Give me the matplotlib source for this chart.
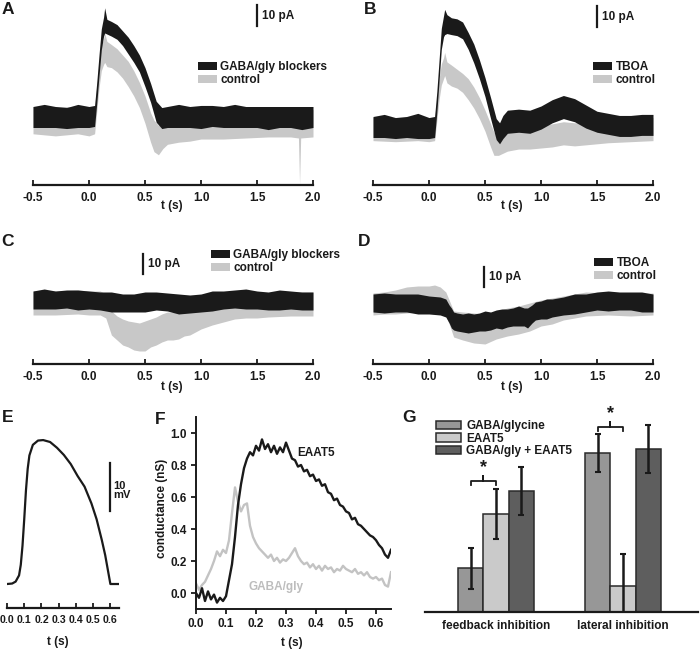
import matplotlib
matplotlib.use('Agg')
import matplotlib.pyplot as plt
from matplotlib.patches import Patch
import numpy as np

plt.rcParams['font.family'] = ['Liberation Sans', 'DejaVu Sans']
plt.rcParams['font.weight'] = 'bold'
plt.rcParams['axes.labelweight'] = 'bold'

# ---------------- data ----------------
# A: GABA/gly blockers vs control, pA (trace centre and half band width)
a_blk_t = [-0.5, -0.4, -0.3, -0.2, -0.1, 0.0, 0.05, 0.07, 0.09, 0.11, 0.13, 0.14, 0.16, 0.2, 0.25, 0.3, 0.35, 0.4,
           0.45, 0.5, 0.55, 0.6, 0.65, 0.7, 0.8, 0.9, 1.0, 1.1, 1.2, 1.3, 1.4, 1.5, 1.6, 1.7, 1.8, 1.9, 2.0]
a_blk_mid = [0, 0.5, 0, -0.5, 0.5, 0, 0.5, 12, 25, 37, 43, 46, 43, 42, 40.5, 37.5, 34, 30,
             25.5, 19, 11.5, 2.5, -0.5, 0, 0.5, 0, 0, 0.5, 0, 0.5, 0, 0, -0.5, 0, 0, -0.5, 0]
a_blk_half = [5, 5.5, 5, 5, 5.5, 5, 5, 5, 5, 5, 4.5, 6, 3.5, 3.5, 3.5, 3.5, 4, 4,
              4, 4.5, 4.5, 5, 5, 5, 5.5, 5, 5.5, 5, 5, 5.5, 5, 5, 5.5, 5, 5, 5.5, 5]
a_ctl_t = [-0.5, -0.3, -0.1, 0.0, 0.05, 0.07, 0.09, 0.11, 0.13, 0.14, 0.16, 0.2, 0.25, 0.3, 0.35, 0.4, 0.45,
           0.5, 0.55, 0.58, 0.62, 0.66, 0.7, 0.8, 0.9, 1.0, 1.2, 1.4, 1.6, 1.8, 1.87, 1.88, 1.89, 2.0]
a_ctl_mid = [-1.5, -2, -1.5, -2, -1.5, 9, 20, 28, 31, 33, 30, 29, 27, 24, 20.5, 16, 10.5,
             3.5, -5, -9, -11, -8, -6, -5, -4.5, -4, -3.5, -3.5, -3, -3, -3.5, -17, -3.5, -3]
a_ctl_half = [6.5, 7, 6.5, 7, 6.5, 6, 6, 6, 6, 7, 6, 5.5, 5.5, 5.5, 6, 6, 6,
              6.5, 7, 7.5, 7, 7, 7, 7, 7, 6.5, 7, 6.5, 6.5, 6.5, 6.5, 15, 6.5, 6.5]

# B: TBOA vs control
b_blk_t = [-0.5, -0.4, -0.3, -0.2, -0.1, 0.0, 0.05, 0.07, 0.09, 0.11, 0.13, 0.14, 0.16, 0.2, 0.25, 0.3, 0.35,
           0.4, 0.45, 0.5, 0.55, 0.6, 0.63, 0.66, 0.7, 0.8, 0.9, 1.0, 1.1, 1.2, 1.3, 1.4, 1.5, 1.6, 1.7, 1.8, 1.9, 2.0]
b_blk_mid = [0, 0.5, -0.5, 0, 0.5, -0.5, 0, 12, 27, 42, 48, 50, 49, 48, 47.5, 46, 41,
             35, 27.5, 19, 9, -1, -3, 0, 2.5, 3, 2.5, 4.5, 7.5, 9.5, 8, 5, 2.5, 1.5, 0.5, 0.5, 1, 1]
b_blk_half = [5, 5.5, 5, 5, 6, 5, 5, 5, 5, 5, 5, 6, 4.5, 4, 4, 4, 4,
              4.5, 4.5, 4.5, 5, 5, 5, 5.5, 5.5, 5.5, 5.5, 5.5, 5.5, 5.5, 5.5, 5.5, 5, 5, 5, 5, 5, 5]
b_ctl_t = [-0.5, -0.3, -0.1, 0.0, 0.05, 0.07, 0.09, 0.11, 0.13, 0.14, 0.16, 0.2, 0.25, 0.3, 0.35, 0.4,
           0.45, 0.5, 0.55, 0.58, 0.62, 0.7, 0.8, 0.9, 1.0, 1.1, 1.2, 1.3, 1.4, 1.6, 1.8, 2.0]
b_ctl_mid = [-1, -1.5, -1, -1.5, -1, 8, 18, 25, 28, 30, 26, 24.5, 23, 21, 18, 14,
             9, 3, -4, -8, -8, -6, -5, -5, -4.5, -4, -3, -3.5, -3, -2, -1.5, -1]
b_ctl_half = [5.5, 5.5, 5.5, 5.5, 5.5, 5, 5, 5, 5, 5.5, 5, 5, 4.5, 4.5, 5, 5,
              5, 5, 5.5, 5.5, 5.5, 5.5, 5.5, 5.5, 5.5, 5.5, 5.5, 5.5, 5.5, 5.5, 5.5, 5.5]

# C: GABA/gly blockers vs control
c_blk_t = [-0.5, -0.4, -0.3, -0.2, -0.1, 0.0, 0.1, 0.2, 0.3, 0.4, 0.5, 0.6, 0.7, 0.8, 0.9, 1.0,
           1.1, 1.2, 1.3, 1.4, 1.5, 1.6, 1.7, 1.8, 1.9, 2.0]
c_blk_mid = [0.5, 1, 0.5, 1, 0.5, 0.5, 0, -0.5, -1, -1, -0.5, 0, -0.5, -1.5, -1.5, -1,
             0, 0.5, 1, 1, 0.5, 0, 0.5, 0.5, 0, 0]
c_blk_half = [4.5, 5, 4.5, 4.5, 5, 4.5, 4.5, 5, 4.5, 4.5, 5, 4.5, 4.5, 5, 4.5, 4.5,
              5, 4.5, 4.5, 5, 4.5, 4.5, 5, 4.5, 4.5, 4.5]
c_ctl_t = [-0.5, -0.3, -0.1, 0.0, 0.1, 0.15, 0.2, 0.25, 0.3, 0.35, 0.4, 0.45, 0.5, 0.55, 0.6, 0.65,
           0.7, 0.75, 0.8, 0.85, 0.9, 0.95, 1.0, 1.05, 1.1, 1.2, 1.3, 1.4, 1.5, 1.6, 1.8, 2.0]
c_ctl_mid = [-1, -1, -0.5, -1, -1, -2.5, -11, -13.5, -15.5, -16.5, -17.5, -18, -17.5, -16, -15, -13.5,
             -12.5, -12.5, -12, -10.5, -10, -8.5, -7, -6.5, -5.5, -4, -3, -2.5, -2.5, -2, -1.5, -1.5]
c_ctl_half = [6, 6, 6, 6, 6, 6, 6, 6, 6.5, 6.5, 7, 7, 7.5, 7, 7, 7,
              7, 7, 7, 7, 7, 7, 7, 6.5, 6.5, 6.5, 6, 6, 6, 6, 6, 6]

# D: TBOA vs control
d_blk_t = [-0.5, -0.4, -0.3, -0.2, -0.1, 0.0, 0.1, 0.15, 0.18, 0.2, 0.22, 0.25, 0.3, 0.35, 0.4, 0.45, 0.5,
           0.55, 0.6, 0.65, 0.7, 0.75, 0.8, 0.85, 0.88, 0.92, 0.95, 1.0, 1.05, 1.1, 1.2, 1.3, 1.4, 1.5,
           1.6, 1.7, 1.8, 1.9, 2.0]
d_blk_mid = [0.5, 0.5, 0.5, 0.5, 0, -0.5, -1, -2, -5, -7, -8.5, -9, -9.5, -9.5, -9.5, -9, -8.5,
             -8.5, -7.5, -7.5, -7, -6.5, -6, -6.5, -7, -5, -3.5, -3, -2.5, -2, -1, 0, 0.5, 1.5,
             1.5, 1.5, 1.5, 1, 0.5]
d_blk_half = [4.5, 5, 4.5, 4.5, 5, 4.5, 4.5, 4.5, 4.5, 5, 4.5, 4.5, 4.5, 5, 4.5, 4.5, 5,
              4.5, 4.5, 5, 4.5, 4.5, 5, 4.5, 5, 4.5, 4.5, 4.5, 5, 4.5, 4.5, 5, 4.5, 4.5,
              5, 4.5, 4.5, 5, 4.5]
d_ctl_t = [-0.5, -0.4, -0.3, -0.2, -0.1, 0.0, 0.05, 0.1, 0.15, 0.18, 0.22, 0.3, 0.4, 0.5, 0.6, 0.7,
           0.8, 0.9, 1.0, 1.1, 1.2, 1.3, 1.4, 1.6, 1.8, 2.0]
d_ctl_mid = [0, 0.5, 1, 2, 2.5, 2.5, 3, 2.5, 0, -4, -10, -11, -12, -12.5, -10.5, -9,
             -8, -6.5, -4.5, -3.5, -2, -1, 0, 0, -0.5, 0]
d_ctl_half = [5.5, 5.5, 6, 6.5, 6.5, 6.5, 6.5, 6, 6, 6, 6.5, 7, 7.5, 7.5, 7, 7,
              7, 7, 6.5, 6.5, 6, 6, 6, 5.5, 5.5, 5.5]

# E: modelled voltage (mV)
e_t = [0.0, 0.03, 0.05, 0.07, 0.08, 0.09, 0.10, 0.11, 0.12, 0.13, 0.15, 0.18, 0.21, 0.25, 0.29, 0.33,
       0.37, 0.41, 0.45, 0.49, 0.52, 0.55, 0.57, 0.59, 0.60, 0.65]
e_v = [0, 0.1, 0.5, 1.8, 4, 8, 13.5, 19.5, 24, 26.8, 29, 29.9, 30, 29.6, 28.4, 26.9,
       25, 22.5, 20.3, 16.8, 13.5, 9.2, 6.0, 2.0, 0, 0]

# F: conductance (nS)
f_t = [i / 100 for i in range(66)]
f_eaat5 = [0.00, -0.03, 0.03, -0.05, 0.01, -0.04, -0.01, -0.06, -0.03, -0.05,
           -0.02, 0.08, 0.18, 0.35, 0.55, 0.68, 0.78, 0.84, 0.88, 0.86,
           0.92, 0.89, 0.96, 0.90, 0.93, 0.88, 0.92, 0.87, 0.91, 0.88,
           0.94, 0.89, 0.84, 0.83, 0.79, 0.80, 0.76, 0.77, 0.73, 0.74,
           0.70, 0.71, 0.67, 0.68, 0.63, 0.62, 0.58, 0.59, 0.55, 0.54,
           0.51, 0.50, 0.46, 0.47, 0.43, 0.42, 0.40, 0.38, 0.36, 0.35,
           0.33, 0.30, 0.28, 0.24, 0.22, 0.27]
f_gaba = [0.06, 0.02, 0.05, 0.07, 0.11, 0.15, 0.20, 0.26, 0.23, 0.27,
          0.25, 0.33, 0.50, 0.66, 0.57, 0.51, 0.55, 0.56, 0.42, 0.35,
          0.31, 0.28, 0.26, 0.24, 0.22, 0.24, 0.20, 0.22, 0.19, 0.21,
          0.20, 0.22, 0.25, 0.28, 0.23, 0.20, 0.18, 0.19, 0.16, 0.18,
          0.15, 0.17, 0.14, 0.17, 0.15, 0.16, 0.13, 0.15, 0.14, 0.17,
          0.15, 0.14, 0.13, 0.15, 0.12, 0.13, 0.11, 0.13, 0.10, 0.09,
          0.10, 0.08, 0.09, 0.05, 0.04, 0.13]

# G: bar chart
g_groups = ['feedback inhibition', 'lateral inhibition']
g_series = ['GABA/glycine', 'EAAT5', 'GABA/gly + EAAT5']
g_vals = [[0.244, 0.883], [0.544, 0.144], [0.672, 0.906]]
g_errs = [[0.114, 0.106], [0.139, 0.178], [0.131, 0.133]]
g_sig = [0.729, 1.028]

# ---------------- layout ----------------
W, H = 700, 650
fig = plt.figure(figsize=(7, 6.5), dpi=100)
TXT = '#1a1a1a'
BLK = '#1a1a1a'
GRY = '#c8c8c8'


def add_ax(left, top, right, bottom):
    return fig.add_axes([left / W, 1 - bottom / H, (right - left) / W, (bottom - top) / H])


def trace_panel(rect, base, ppa, blk, ctl, names, leg_xy, sb_t, sb_lo, tlabel_xy):
    ax = add_ax(*rect)
    ax.set_xlim(-0.5, 2.0)
    ax.set_ylim((base - rect[3]) / ppa, (base - rect[1]) / ppa)
    for (t, m, h), c, z in [(ctl, GRY, 2), (blk, BLK, 3)]:
        t, m, h = np.array(t), np.array(m), np.array(h)
        ax.fill_between(t, m - h, m + h, color=c, lw=0, zorder=z)
    for s in ['top', 'left', 'right']:
        ax.spines[s].set_visible(False)
    ax.spines['bottom'].set_linewidth(1.6)
    ax.spines['bottom'].set_color(TXT)
    ax.set_yticks([])
    ax.set_xticks([-0.5, 0.0, 0.5, 1.0, 1.5, 2.0])
    ax.set_xticklabels(['-0.5', '0.0', '0.5', '1.0', '1.5', '2.0'], fontweight='bold')
    ax.tick_params(axis='x', direction='in', length=3.5, width=1.3, pad=5, labelsize=8.5,
                   colors=TXT)
    ax.patch.set_alpha(0)
    # scale bar 10 pA
    ax.plot([sb_t, sb_t], [sb_lo, sb_lo + 10], color=TXT, lw=1.6, clip_on=False)
    ax.text(sb_t + 0.045, sb_lo + 5, '10 pA', fontsize=8.5, ha='left', va='center', color=TXT)
    handles = [Patch(fc=BLK, ec='none'), Patch(fc=GRY, ec='none')]
    ax.legend(handles, names, loc='upper left', bbox_to_anchor=(leg_xy[0] / W, 1 - leg_xy[1] / H),
              bbox_transform=fig.transFigure, frameon=False, fontsize=8.5, handlelength=1.6,
              handleheight=0.6, handletextpad=0.3, labelspacing=0.08, borderpad=0,
              borderaxespad=0, labelcolor=TXT)
    fig.text(tlabel_xy[0] / W, 1 - tlabel_xy[1] / H, 't (s)', fontsize=8.5, ha='center',
             va='center', color=TXT)
    return ax


trace_panel((33, 0, 313, 185), 117, 2.1, (a_blk_t, a_blk_mid, a_blk_half),
            (a_ctl_t, a_ctl_mid, a_ctl_half), ['GABA/gly blockers', 'control'],
            (198, 61), 1.5, 43.3, (172, 206))
trace_panel((373, 0, 653, 185), 127, 2.1, (b_blk_t, b_blk_mid, b_blk_half),
            (b_ctl_t, b_ctl_mid, b_ctl_half), ['TBOA', 'control'],
            (593, 61), 1.5, 47.6, (512, 206))
trace_panel((33, 225, 313, 364), 301, 2.0, (c_blk_t, c_blk_mid, c_blk_half),
            (c_ctl_t, c_ctl_mid, c_ctl_half), ['GABA/gly blockers', 'control'],
            (211, 249), 0.48, 13.5, (172, 387))
trace_panel((373, 225, 653, 364), 304, 2.0, (d_blk_t, d_blk_mid, d_blk_half),
            (d_ctl_t, d_ctl_mid, d_ctl_half), ['TBOA', 'control'],
            (594, 257), 0.49, 8.5, (512, 387))

# ---- E ----
axE = add_ax(7, 430, 119, 608)
axE.plot(e_t, e_v, color=BLK, lw=1.6)
axE.set_xlim(0, 0.65)
axE.set_ylim(-5, 32.1)
for s in ['top', 'left', 'right']:
    axE.spines[s].set_visible(False)
axE.spines['bottom'].set_linewidth(1.6)
axE.spines['bottom'].set_color(TXT)
axE.set_yticks([])
axE.set_xticks([0, 0.1, 0.2, 0.3, 0.4, 0.5, 0.6])
axE.set_xticklabels(['0.0', '0.1', '0.2', '0.3', '0.4', '0.5', '0.6'], fontweight='bold')
axE.tick_params(axis='x', direction='in', length=3.5, width=1.3, pad=5, labelsize=7.6, colors=TXT)
axE.set_xlabel('t (s)', fontsize=8.5, color=TXT, va='center')
axE.xaxis.set_label_coords(0.455, -0.19)
axE.plot([0.6, 0.6], [15.2, 25.2], color=TXT, lw=1.6, clip_on=False)
axE.text(0.615, 19.5, '10\nmV', fontsize=8, ha='left', va='center', color=TXT, linespacing=0.95)
axE.patch.set_alpha(0)

# ---- F ----
axF = add_ax(196, 417, 391, 609)
axF.plot(f_t, f_gaba, color='#c3c3c3', lw=1.7)
axF.plot(f_t, f_eaat5, color=BLK, lw=1.7)
axF.set_xlim(0, 0.65)
axF.set_ylim(-0.1, 1.1)
for s in ['top', 'right']:
    axF.spines[s].set_visible(False)
for s in ['left', 'bottom']:
    axF.spines[s].set_linewidth(1.4)
    axF.spines[s].set_color(TXT)
axF.set_xticks([0, 0.1, 0.2, 0.3, 0.4, 0.5, 0.6])
axF.set_xticklabels(['0.0', '0.1', '0.2', '0.3', '0.4', '0.5', '0.6'], fontweight='bold')
axF.set_yticks([0, 0.2, 0.4, 0.6, 0.8, 1.0])
axF.set_yticklabels(['0.0', '0.2', '0.4', '0.6', '0.8', '1.0'], fontweight='bold')
axF.tick_params(direction='out', length=3.5, width=1.3, pad=3, labelsize=8.5, colors=TXT)
axF.set_xlabel('t (s)', fontsize=8.5, color=TXT, va='center')
axF.xaxis.set_label_coords(0.49, -0.175)
axF.set_ylabel('conductance (nS)', fontsize=8.5, color=TXT, va='center')
axF.yaxis.set_label_coords(-0.174, 0.526)
axF.text(0.40, 0.875, 'EAAT5', fontsize=8.5, ha='center', va='center', color=TXT)
axF.text(0.267, 0.04, 'GABA/gly', fontsize=8.5, ha='center', va='center', color='#bdbdbd')
axF.patch.set_alpha(0)

# ---- G ----
axG = add_ax(425, 400, 698, 612)
colors = ['#979797', '#cacaca', '#5e5e5e']
offs = [-0.2, 0.0, 0.2]
xg = np.arange(len(g_groups))
for i, name in enumerate(g_series):
    axG.bar(xg + offs[i], g_vals[i], 0.2, yerr=g_errs[i], color=colors[i], edgecolor='#2a2a2a',
            linewidth=1.1, label=name,
            error_kw=dict(ecolor='#1a1a1a', elinewidth=1.8, capsize=2.5, capthick=1.5))
axG.set_xlim(-0.559, 1.59)
axG.set_ylim(0, 1.178)
for s in ['top', 'left', 'right']:
    axG.spines[s].set_visible(False)
axG.spines['bottom'].set_linewidth(1.6)
axG.spines['bottom'].set_color(TXT)
axG.set_yticks([])
axG.set_xticks(xg)
axG.set_xticklabels(g_groups, fontweight='bold')
axG.tick_params(axis='x', length=0, pad=6, labelsize=8.5, colors=TXT)
for g, y in zip(xg, g_sig):
    x1, x2 = g + offs[0], g + offs[1]
    xm = (x1 + x2) / 2
    d = 0.025
    axG.plot([x1, x1, xm, xm, xm, x2, x2], [y - d, y, y, y + d, y, y, y - d],
             color=TXT, lw=1.3, clip_on=False)
    axG.text(xm, y + 0.048, '*', fontsize=13, ha='center', va='baseline', color=TXT)
axG.legend(loc='upper left', bbox_to_anchor=(436 / W, 1 - 420 / H), bbox_transform=fig.transFigure,
           frameon=False, fontsize=8.5, handlelength=2.1, handleheight=0.7, handletextpad=0.45,
           labelspacing=0.05, borderpad=0, borderaxespad=0, labelcolor=TXT)
axG.patch.set_alpha(0)

# panel letters
for lab, x, y in [('A', 8, 10), ('B', 370, 10), ('C', 8, 242), ('D', 364, 242),
                  ('E', 8, 418), ('F', 160, 420), ('G', 409, 418)]:
    fig.text(x / W, 1 - y / H, lab, fontsize=12.5, ha='center', va='center', color=TXT)

fig.savefig('out.png', dpi=100)
